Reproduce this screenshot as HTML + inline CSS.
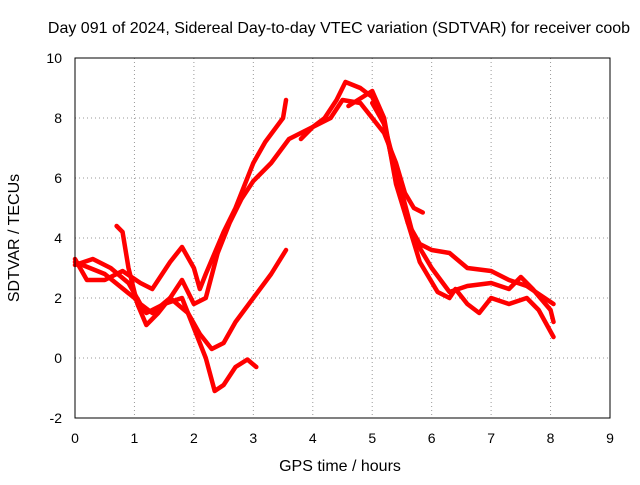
<!DOCTYPE html>
<html><head><meta charset="utf-8"><style>
body{margin:0;background:#fff}
text{font-family:"Liberation Sans",sans-serif;font-size:14px;fill:#000}
.big{font-size:16px}
</style></head><body>
<svg id="chart" width="640" height="480">
<text class="big" x="339" y="33" text-anchor="middle">Day 091 of 2024, Sidereal Day-to-day VTEC variation (SDTVAR) for receiver coob</text>
<g id="grid"></g><g id="series"></g>
<rect x="75" y="58" width="535" height="360" fill="none" stroke="#000"/>
<text class="big" x="340" y="471" text-anchor="middle">GPS time / hours</text>
<text class="big" transform="translate(19,238) rotate(-90)" text-anchor="middle">SDTVAR / TECUs</text>
</svg>
<script>
const xTicks=[0,1,2,3,4,5,6,7,8,9];
const yTicks=[-2,0,2,4,6,8,10];
const s1=[[0,3.2],[0.5,2.8],[1,2.0],[1.2,1.5],[1.5,1.8],[1.8,2.0],[2.0,1.0],[2.2,0],[2.35,-1.1],[2.5,-0.9],[2.7,-0.3],[2.9,-0.05],[3.05,-0.3]];
const s2=[[0,3.1],[0.3,3.3],[0.6,3.0],[0.9,2.5],[1.1,1.8],[1.3,1.5],[1.6,2.0],[1.9,1.5],[2.1,0.8],[2.3,0.3],[2.5,0.5],[2.7,1.2],[3.0,2.0],[3.3,2.8],[3.55,3.6]];
const s3=[[0.7,4.4],[0.8,4.2],[0.9,3.0],[1.05,1.8],[1.2,1.1],[1.4,1.5],[1.6,2.0],[1.8,2.6],[2.0,1.8],[2.2,2.0],[2.4,3.5],[2.6,4.5],[2.8,5.3],[3.0,5.9],[3.3,6.5],[3.6,7.3],[4.0,7.7],[4.3,8.0],[4.5,8.6],[4.8,8.5],[5.0,8.0],[5.2,7.5],[5.4,6.5],[5.55,5.5],[5.7,5.0],[5.85,4.85]];
const s4=[[0,3.3],[0.2,2.6],[0.5,2.6],[0.8,2.9],[1.1,2.5],[1.3,2.3],[1.6,3.2],[1.8,3.7],[2.0,3.0],[2.1,2.3],[2.2,2.8],[2.5,4.2],[2.7,5.0],[3.0,6.5],[3.2,7.2],[3.5,8.0],[3.55,8.6]];
const s5=[[3.8,7.3],[4.0,7.7],[4.2,8.0],[4.4,8.6],[4.55,9.2],[4.8,9.0],[5.0,8.7],[5.2,7.8],[5.4,6.0],[5.6,4.5],[5.8,3.8],[6.0,3.6],[6.3,3.5],[6.6,3.0],[7.0,2.9],[7.3,2.6],[7.6,2.4],[7.9,2.0],[8.05,1.8]];
const s6=[[4.6,8.4],[5.0,8.9],[5.2,8.0],[5.4,5.8],[5.6,4.5],[5.8,3.2],[6.1,2.2],[6.3,2.0],[6.4,2.3],[6.6,1.8],[6.8,1.5],[7.0,2.0],[7.3,1.8],[7.6,2.0],[7.8,1.6],[8.05,0.7]];
const s7=[[5.0,8.5],[5.2,7.8],[5.5,5.5],[5.7,4.0],[6.0,3.0],[6.3,2.2],[6.6,2.4],[7.0,2.5],[7.3,2.3],[7.5,2.7],[7.7,2.3],[8.0,1.6],[8.05,1.2]];
const allSeries=[s1,s2,s3,s4,s5,s6,s7];
const X=v=>75+v*535/9, Y=v=>418-(v+2)*30;
const NS="http://www.w3.org/2000/svg";
const g=document.getElementById('grid'), sg=document.getElementById('series');
function mk(t,a,p){const e=document.createElementNS(NS,t);for(const k in a)e.setAttribute(k,a[k]);p.appendChild(e);return e;}
xTicks.forEach(v=>{
 const l=mk('line',{x1:X(v),x2:X(v),y1:58,y2:418,stroke:'#999','stroke-dasharray':'1,3'},g);
 
 
 const t=mk('text',{x:X(v),y:443,'text-anchor':'middle'},g);t.textContent=v;
 
 
});
yTicks.forEach(v=>{
 const l=mk('line',{x1:75,x2:610,y1:Y(v),y2:Y(v),stroke:'#999','stroke-dasharray':'1,3'},g);
 
 
 const t=mk('text',{x:62,y:Y(v)+5,'text-anchor':'end'},g);t.textContent=v;
 
 
});
allSeries.forEach((s,i)=>{
 const p=mk('polyline',{points:s.map(d=>X(d[0])+','+Y(d[1])).join(' '),fill:'none',stroke:'#f00','stroke-width':4.5,'stroke-linejoin':'round','stroke-linecap':'round'},sg);
 
 
});
</script>
</body></html>
